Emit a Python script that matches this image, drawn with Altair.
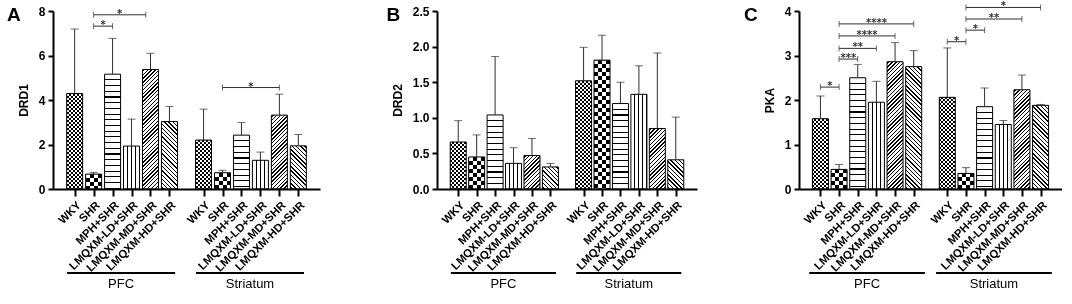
import math
import altair as alt
import pandas as pd

FONT = "Liberation Sans"

# ---------------- data ----------------
treatments = ["WKY", "SHR", "MPH+SHR", "LMQXM-LD+SHR", "LMQXM-MD+SHR", "LMQXM-HD+SHR"]
regions = ["PFC", "Striatum"]

# panel A  (DRD1)   order: PFC x6, Striatum x6
drd1_mean = [4.29, 0.67, 5.16, 1.93, 5.37, 3.03, 2.20, 0.73, 2.42, 1.29, 3.32, 1.94]
drd1_upper = [7.19, 0.75, 6.77, 3.14, 6.10, 3.71, 3.59, 0.84, 2.99, 1.66, 4.26, 2.45]
# brackets: region, from bar index, to bar index, height, label
drd1_sig = [("PFC", 1, 2, 7.32, "*"), ("PFC", 1, 3.75, 7.83, "*"),
            ("Striatum", 1, 4, 4.56, "*")]

# panel B  (DRD2)
drd2_mean = [0.66, 0.45, 1.04, 0.36, 0.47, 0.31, 1.52, 1.81, 1.20, 1.33, 0.85, 0.41]
drd2_upper = [0.96, 0.76, 1.86, 0.58, 0.71, 0.36, 1.99, 2.16, 1.50, 1.73, 1.91, 1.01]
drd2_sig = []

# panel C  (PKA)
pka_mean = [1.58, 0.44, 2.50, 1.95, 2.86, 2.75, 2.06, 0.35, 1.85, 1.45, 2.23, 1.88]
pka_upper = [2.09, 0.55, 2.80, 2.42, 3.29, 3.11, 3.17, 0.48, 2.27, 1.54, 2.56, 1.90]
pka_sig = [("PFC", 0, 1, 2.29, "*"), ("PFC", 1, 2, 2.92, "***"), ("PFC", 1, 3, 3.16, "**"),
           ("PFC", 1, 4, 3.44, "****"), ("PFC", 1, 5, 3.71, "****"),
           ("Striatum", 0, 1, 3.31, "*"), ("Striatum", 1, 2, 3.57, "*"),
           ("Striatum", 1, 4, 3.82, "**"), ("Striatum", 1, 5, 4.08, "*")]

# ---------------- layout / style constants ----------------
PLOT_H = 178
BAR_W = 16
GROUP_OFFSET = 6.8          # x position of first Striatum bar
X_DOMAIN = [-0.88, 12.68]
patterns = ["fine_checker", "checker", "hlines", "vlines", "diag_up", "diag_down"]
INK = "#000000"
ERR = "#2e2e2e"


def pos_of(region, i):
    return i + (GROUP_OFFSET if region == "Striatum" else 0.0)


def stripe_stops(total, period, lw, phase, on="black", off="white"):
    """hard-edged stripes along a gradient of `total` pixels"""
    stops = [(0.0, off)]
    c = phase
    while c - lw / 2 < total:
        a = max(0.0, (c - lw / 2) / total)
        b = min(1.0, (c + lw / 2) / total)
        stops += [(a, off), (a, on), (b, on), (b, off)]
        c += period
    stops.append((1.0, off))
    return [alt.GradientStop(offset=round(o, 5), color=col) for o, col in stops]


def lin(stops, x1, y1, x2, y2):
    return alt.LinearGradient(gradient="linear", stops=stops, x1=x1, y1=y1, x2=x2, y2=y2)


def bar_fills(pattern, h, w=BAR_W):
    """returns list of (fill, blend) layers for a bar of h x w pixels"""
    h = max(h, 1.0)
    if pattern in ("checker", "fine_checker"):
        s = 4.0 if pattern == "checker" else 2.0
        base = lin(stripe_stops(h, 2 * s, s, s / 2), 0, 0, 0, 1)
        top = lin(stripe_stops(w, 2 * s, s, s / 2, on="white", off="black"), 0, 0, 1, 0)
        return [(base, None), (top, "difference")]
    if pattern == "hlines":
        return [(lin(stripe_stops(h, 5.7, 1.1, 5.7), 0, 0, 0, 1), None)]
    if pattern == "vlines":
        return [(lin(stripe_stops(w, 4.0, 1.1, 4.0), 0, 0, 1, 0), None)]
    r2 = math.sqrt(2)
    k = (w + h) / (w * w + h * h)
    if pattern == "diag_up":
        s = 2.7
        st = stripe_stops(w + h, s * r2, 1.0 * r2, s * r2 / 2)
        return [(lin(st, 0, 0, k * w, k * h), None)]
    s = 3.0
    st = stripe_stops(w + h, s * r2, 1.0 * r2, s * r2 / 2)
    return [(lin(st, 0, 1, k * w, 1 - k * h), None)]


def panel(letter, letter_x, ytitle, means, uppers, ymax, ystep, yfmt, sig, width, ext):
    rows = []
    for gi, reg in enumerate(regions):
        for ti, tr in enumerate(treatments):
            idx = gi * 6 + ti
            rows.append(dict(idx=idx, region=reg, treatment=tr, pattern=patterns[ti],
                             pos=pos_of(reg, ti), mean=means[idx], upper=uppers[idx]))
    df = pd.DataFrame(rows)

    xs = alt.Scale(domain=X_DOMAIN, nice=False, zero=False)
    ys = alt.Scale(domain=[0, ymax], nice=False, zero=True)
    tick_vals = list(df["pos"])
    names = "[" + ",".join("'%s'" % t for t in treatments) + "]"
    label_expr = "%s[round(datum.value < %f ? datum.value : datum.value - %f)]" % (
        names, GROUP_OFFSET - 0.5, GROUP_OFFSET)
    yvals = [round(i * ystep, 3) for i in range(int(round(ymax / ystep)) + 1)]

    xaxis = alt.Axis(values=tick_vals, labelExpr=label_expr, labelAngle=-45,
                     labelFont=FONT, labelFontSize=11.3, labelFontWeight="bold",
                     labelColor="black", labelPadding=3, tickSize=7, tickWidth=2,
                     tickColor=INK, domainColor=INK, domainWidth=2, grid=False,
                     title=None, zindex=1, labelOverlap=False, labelBound=False)
    yaxis = alt.Axis(values=yvals, format=yfmt, labelFont=FONT, labelFontSize=12,
                     labelFontWeight="bold", labelColor="black", labelPadding=3,
                     tickSize=5, tickWidth=2, tickColor=INK, domainColor=INK,
                     domainWidth=2, grid=False, title=ytitle, titleFont=FONT,
                     titleFontSize=12, titleFontWeight="bold", titleColor="black",
                     titlePadding=8, zindex=1)

    def XQ(field):
        return alt.X(field + ":Q", scale=xs, axis=xaxis)

    def YQ(field):
        return alt.Y(field + ":Q", scale=ys, axis=yaxis)

    layers = []
    for r in rows:
        h = r["mean"] / ymax * PLOT_H
        fills = bar_fills(r["pattern"], h)
        for fill, blend in fills:
            kw = dict(size=BAR_W, fill=fill, strokeWidth=0)
            if blend:
                kw["blend"] = blend
            layers.append(alt.Chart(df).transform_filter(alt.datum.idx == r["idx"])
                          .mark_bar(**kw).encode(x=XQ("pos"), y=YQ("mean")))
    # outlines
    layers.append(alt.Chart(df).mark_bar(size=BAR_W, fillOpacity=0, stroke=INK,
                                         strokeWidth=1).encode(x=XQ("pos"), y=YQ("mean")))
    # error bars
    layers.append(alt.Chart(df).mark_rule(color=ERR, strokeWidth=1).encode(
        x=XQ("pos"), y=YQ("mean"), y2="upper:Q"))
    layers.append(alt.Chart(df).mark_tick(orient="horizontal", size=8, thickness=1,
                                          color=ERR).encode(x=XQ("pos"), y=YQ("upper")))

    # significance brackets
    if sig:
        sdf = pd.DataFrame([dict(x1=pos_of(rg, a), x2=pos_of(rg, b), y=yv, label=lb,
                                 xm=(pos_of(rg, a) + pos_of(rg, b)) / 2)
                            for rg, a, b, yv, lb in sig])
        layers.append(alt.Chart(sdf).mark_rule(color=ERR, strokeWidth=1).encode(
            x=XQ("x1"), x2="x2:Q", y=YQ("y")))
        for col in ("x1", "x2"):
            layers.append(alt.Chart(sdf).mark_tick(orient="vertical", size=6,
                                                   thickness=1, color=ERR).encode(
                x=XQ(col), y=YQ("y")))
        layers.append(alt.Chart(sdf).mark_text(font="DejaVu Sans", fontSize=10,
                                               fontWeight="bold", color="#333333",
                                               baseline="alphabetic", dy=2).encode(
            x=XQ("xm"), y=YQ("y"), text="label:N"))

    # group underline + labels
    gdf = pd.DataFrame([dict(label=rg, start=pos_of(rg, 0) - ext[0],
                             end=pos_of(rg, 5) + ext[1],
                             mid=(pos_of(rg, 0) - ext[0] + pos_of(rg, 5) + ext[1]) / 2)
                        for rg in regions])
    layers.append(alt.Chart(gdf).mark_rule(color=INK, strokeWidth=2).encode(
        x=XQ("start"), x2="end:Q", y=alt.value(262)))
    layers.append(alt.Chart(gdf).mark_text(font=FONT, fontSize=13, color="black",
                                           baseline="middle").encode(
        x=XQ("mid"), y=alt.value(273), text="label:N"))

    # panel letter
    layers.append(alt.Chart(pd.DataFrame({"t": [letter]})).mark_text(
        font=FONT, fontSize=19, fontWeight="bold", color="black", align="left",
        baseline="alphabetic").encode(x=alt.value(letter_x), y=alt.value(10), text="t:N"))

    return alt.layer(*layers).properties(width=width, height=PLOT_H)


def spacer(w):
    return alt.Chart(pd.DataFrame({"a": [0]})).mark_point(opacity=0).encode(
        x=alt.value(0), y=alt.value(0)).properties(width=w, height=PLOT_H)


pA = panel("A", -46, "DRD1", drd1_mean, drd1_upper, 8, 2, "d", drd1_sig, 267, (0.4, 0.3))
pB = panel("B", -50.5, "DRD2", drd2_mean, drd2_upper, 2.5, 0.5, ".1f", drd2_sig, 260, (0.4, 0.3))
pC = panel("C", -55, "PKA", pka_mean, pka_upper, 4, 1, "d", pka_sig, 263, (0.6, 0.6))

chart = alt.hconcat(pA, spacer(117), pB, spacer(102), pC, spacing=0, bounds="flush").properties(
    padding={"left": 7, "top": 1, "right": 0, "bottom": 0},
    background="white",
).configure_view(strokeWidth=0, stroke=None)

chart.save("out.html", embed_options={"renderer": "svg", "actions": False})
